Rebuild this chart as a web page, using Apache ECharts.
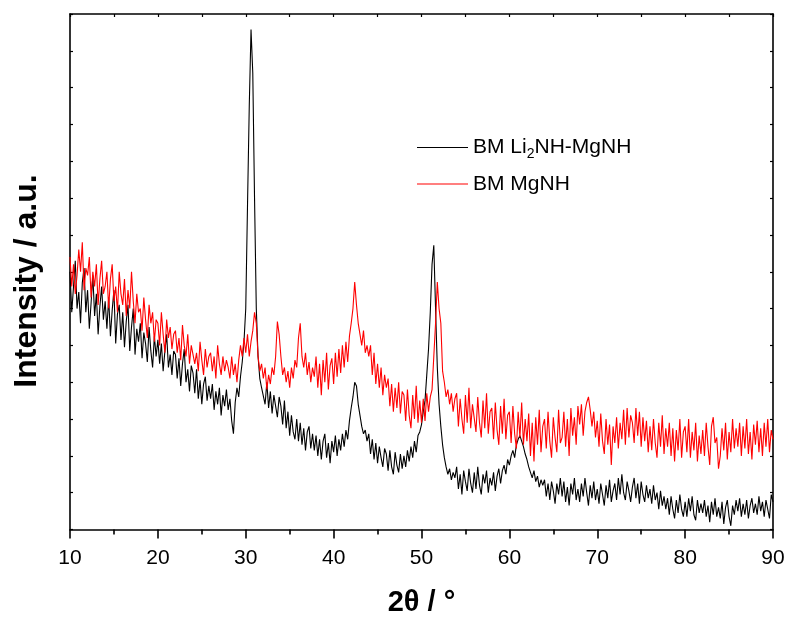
<!DOCTYPE html>
<html>
<head>
<meta charset="utf-8">
<script src="https://cdn.jsdelivr.net/npm/echarts@6/dist/echarts.min.js"></script>
<style>
html,body{margin:0;padding:0;background:#fff;}
#chart{width:789px;height:624px;}
</style>
</head>
<body>
<div id="chart"></div>
<script>
// 2θ sampling grid: start and step (degrees)
const twoThetaStart = 10;
const twoThetaStep = 0.2;

const seriesNames = ['BM Li2NH-MgNH', 'BM MgNH'];

// BM Li2NH-MgNH intensities (a.u.), 10.0 .. 90.0 in 0.2 steps
const liMgNH = [
  700, 590, 660, 730, 600, 645, 560, 670, 710, 590,
  650, 545, 615, 690, 580, 640, 530, 605, 660, 570,
  620, 545, 630, 525, 595, 650, 505, 585, 610, 515,
  590, 495, 565, 610, 485, 550, 600, 475, 545, 510,
  560, 465, 535, 505, 455, 550, 485, 440, 525, 470,
  515, 450, 505, 430, 485, 530, 440, 475, 420, 485,
  475, 410, 465, 390, 450, 490, 400, 435, 375, 445,
  425, 370, 435, 355, 405, 340, 395, 415, 350, 390,
  355, 395, 325, 375, 340, 385, 310, 365, 335, 380,
  325, 355, 295, 260, 345, 385, 360, 415, 455, 510,
  600, 880, 1150, 1358, 1240, 900, 600, 470, 410, 385,
  385, 340, 400, 330, 375, 315, 365, 335, 305, 360,
  335, 285, 350, 275, 320, 255, 310, 265, 245, 300,
  240, 290, 230, 275, 215, 265, 280, 220, 260, 215,
  255, 200, 245, 190, 240, 260, 195, 235, 180, 240,
  210, 255, 200, 245, 215, 260, 225, 270, 245, 295,
  330, 360, 400, 390, 340, 310, 280, 260, 270, 240,
  260, 205, 245, 190, 235, 180, 225, 195, 170, 220,
  205, 160, 215, 170, 150, 210, 175, 155, 205, 165,
  200, 170, 215, 185, 225, 195, 240, 210, 255, 265,
  285, 320, 350, 420, 490, 590, 720, 772, 600, 440,
  340, 280, 230, 195, 170, 150, 165, 135, 155, 140,
  170, 110, 150, 95, 160, 130, 105, 165, 125, 100,
  155, 110, 170, 120, 95, 150, 125, 160, 100, 140,
  120, 155, 105, 145, 165, 125, 160, 175, 150, 190,
  175, 200, 215, 195, 230, 245, 255, 240, 225, 205,
  190, 170, 155, 140, 160, 130, 145, 115, 135, 120,
  135, 90, 125, 80, 130, 105, 70, 125, 95, 140,
  90, 130, 75, 115, 65, 125, 95, 140, 80, 110,
  75, 125, 90, 140, 100, 65, 120, 85, 130, 80,
  110, 70, 125, 95, 65, 120, 85, 135, 75, 105,
  125, 80, 140, 95, 150, 100, 80, 130, 105, 75,
  115, 140, 85, 125, 70, 130, 95, 75, 120, 85,
  110, 70, 120, 80, 100, 55, 105, 65, 90, 55,
  85, 40, 90, 55, 30, 80, 45, 95, 55, 35,
  75, 35, 85, 50, 90, 40, 25, 80, 45, 70,
  45, 80, 35, 65, 20, 75, 40, 85, 35, 60,
  30, 75, 15, 60, 80, 35, 10, 65, 40, 80,
  50, 85, 35, 70, 40, 80, 30, 65, 85, 45,
  70, 40, 90, 50, 75, 35, 80, 55, 30, 95,
  75
];

// BM MgNH intensities (a.u.), 10.0 .. 90.0 in 0.2 steps
const mgNH = [
  740, 660, 720, 640, 690, 760, 700, 780, 650, 710,
  690, 740, 630, 700, 660, 720, 610, 680, 730, 640,
  660, 700, 600, 680, 720, 620, 660, 590, 700, 640,
  610, 680, 580, 650, 600, 700, 620, 560, 640, 590,
  600, 540, 630, 570, 520, 610, 560, 590, 510, 570,
  560, 500, 590, 530, 480, 570, 520, 550, 490, 530,
  540, 480, 520, 460, 555, 500, 470, 530, 450, 500,
  500, 450, 480, 430, 510, 460, 420, 490, 440, 470,
  480, 430, 470, 410, 500, 450, 420, 470, 430, 460,
  440, 410, 470, 420, 450, 400, 460, 500, 470, 520,
  480, 530, 470, 510, 540, 590, 560, 470, 430, 450,
  410, 440, 380, 420, 395, 440, 420, 470, 565, 530,
  470, 420, 440, 400, 430, 385, 440, 410, 460, 440,
  520, 560, 470, 440, 480, 420, 455, 400, 440, 415,
  470, 385, 450, 365, 460, 400, 480, 380, 445, 465,
  395, 480, 415, 490, 425, 500, 440, 510, 455, 525,
  560, 600, 672, 610, 560, 530, 500, 540, 480, 500,
  470, 500, 420, 480, 395, 450, 385, 440, 365, 420,
  385, 410, 335, 395, 320, 385, 330, 400, 315, 375,
  365, 295, 380, 310, 275, 365, 300, 390, 290, 350,
  290, 355, 295, 370, 320, 360, 380, 470, 560, 672,
  600, 560, 430, 400, 360, 380, 340, 370, 320, 355,
  370, 280, 355, 300, 260, 365, 290, 385, 275, 340,
  345, 265, 360, 290, 250, 350, 275, 370, 260, 320,
  330, 245, 345, 270, 230, 335, 260, 355, 245, 310,
  320, 235, 335, 260, 220, 320, 250, 345, 230, 300,
  240, 315, 200, 290, 185, 305, 230, 325, 210, 280,
  300, 220, 320, 240, 195, 305, 250, 210, 325, 235,
  250, 320, 225, 300, 200, 330, 255, 305, 230, 335,
  285, 340, 255, 320, 345, 360, 325, 280, 320, 250,
  295, 225, 315, 240, 205, 300, 230, 285, 175, 280,
  235, 305, 220, 290, 245, 325, 230, 330, 250, 310,
  290, 235, 330, 255, 320, 225, 305, 240, 295, 210,
  280, 215, 300, 235, 195, 290, 225, 310, 205, 275,
  225, 290, 200, 275, 185, 270, 215, 300, 195, 265,
  280, 210, 300, 195, 265, 215, 290, 185, 255, 205,
  270, 200, 290, 225, 175, 280, 305, 235, 250, 165,
  200, 275, 215, 290, 190, 265, 210, 300, 220, 275,
  225, 290, 200, 280, 220, 300, 205, 265, 190, 285,
  230, 295, 210, 275, 200, 290, 225, 300, 210, 270,
  245
];

const xTicks = [10, 20, 30, 40, 50, 60, 70, 80, 90];

function toPairs(vals) {
  return vals.map((v, i) => [+(twoThetaStart + i * twoThetaStep).toFixed(1), v]);
}

const FONT = 'Liberation Sans, Arial, sans-serif';
const chart = echarts.init(document.getElementById('chart'));
const axisLineStyle = { color: '#000', width: 1.6 };
chart.setOption({
  animation: false,
  backgroundColor: '#fff',
  grid: { left: 70, right: 16, top: 14, bottom: 94.5, containLabel: false },
  legend: {
    orient: 'vertical',
    left: 412,
    top: 132,
    icon: 'rect',
    itemWidth: 51,
    itemHeight: 1.2,
    itemGap: 12,
    data: seriesNames,
    formatter: function (name) {
      return name === 'BM Li2NH-MgNH' ? 'BM Li{sub|2}NH-MgNH' : name;
    },
    textStyle: {
      fontFamily: FONT,
      fontSize: 21,
      color: '#000',
      rich: {
        sub: { fontSize: 14, padding: [14, 0, 0, 0], fontFamily: FONT, color: '#000' }
      }
    }
  },
  xAxis: [{
    type: 'value',
    min: xTicks[0],
    max: xTicks[xTicks.length - 1],
    interval: 10,
    axisLine: { show: true, onZero: false, lineStyle: axisLineStyle },
    axisTick: { show: true, inside: false, length: 9, lineStyle: { color: '#000', width: 1.6 } },
    minorTick: { show: true, splitNumber: 2, length: 5, lineStyle: { color: '#000', width: 1.6 } },
    splitLine: { show: false },
    axisLabel: { show: true, margin: 18, fontSize: 21, color: '#000', fontFamily: FONT },
    name: '2θ / °',
    nameLocation: 'middle',
    nameGap: 59,
    nameTextStyle: { fontSize: 29, fontWeight: 'bold', color: '#000', fontFamily: FONT }
  }, {
    type: 'value',
    position: 'top',
    min: xTicks[0],
    max: xTicks[xTicks.length - 1],
    interval: 5,
    axisLine: { show: true, onZero: false, lineStyle: axisLineStyle },
    axisTick: { show: true, inside: true, length: 3, lineStyle: { color: '#000', width: 1.2 } },
    axisLabel: { show: false },
    splitLine: { show: false }
  }],
  yAxis: [{
    type: 'value',
    min: 0,
    max: 1400,
    interval: 100,
    axisLine: { show: true, onZero: false, lineStyle: axisLineStyle },
    axisTick: { show: true, inside: true, length: 3, lineStyle: { color: '#000', width: 1.2 } },
    axisLabel: { show: false },
    splitLine: { show: false }
  }, {
    type: 'value',
    position: 'right',
    min: 0,
    max: 1400,
    interval: 100,
    axisLine: { show: true, onZero: false, lineStyle: axisLineStyle },
    axisTick: { show: true, inside: true, length: 3, lineStyle: { color: '#000', width: 1.2 } },
    axisLabel: { show: false },
    splitLine: { show: false }
  }],
  graphic: [{
    type: 'text',
    x: 27,
    y: 281,
    rotation: Math.PI / 2,
    style: {
      text: 'Intensity / a.u.',
      font: 'bold 32px "Liberation Sans", Arial, sans-serif',
      fill: '#000',
      textAlign: 'center',
      textVerticalAlign: 'middle'
    }
  }],
  series: [{
    name: seriesNames[0],
    type: 'line',
    data: toPairs(liMgNH),
    symbol: 'none',
    showSymbol: false,
    lineStyle: { color: '#000', width: 1.1 },
    itemStyle: { color: '#000' },
    xAxisIndex: 0,
    yAxisIndex: 0
  }, {
    name: seriesNames[1],
    type: 'line',
    data: toPairs(mgNH),
    symbol: 'none',
    showSymbol: false,
    lineStyle: { color: '#ff0000', width: 1.1 },
    itemStyle: { color: '#ff0000' },
    xAxisIndex: 0,
    yAxisIndex: 0
  }]
});
</script>
</body>
</html>
